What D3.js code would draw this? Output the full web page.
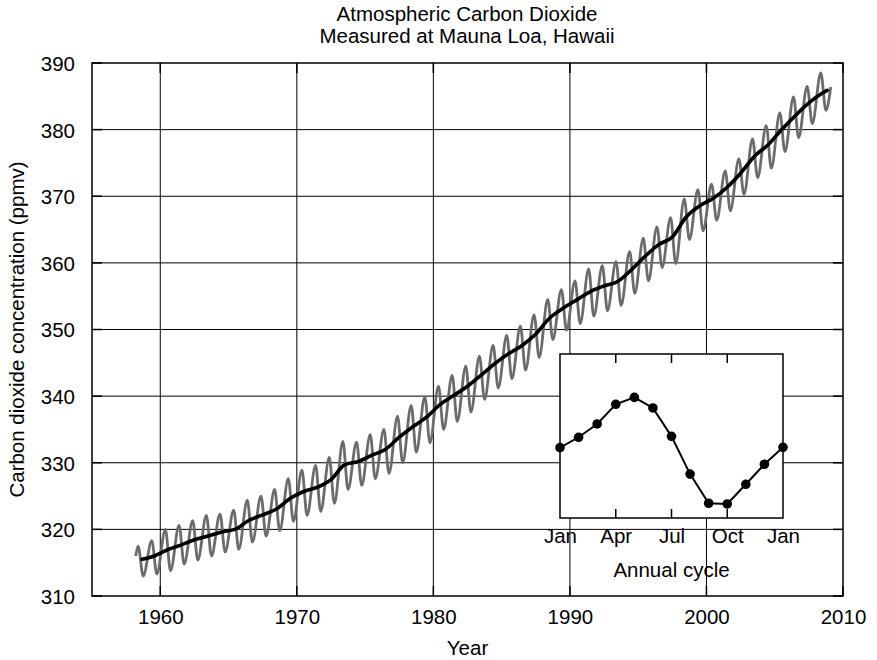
<!DOCTYPE html>
<html><head><meta charset="utf-8">
<script src="https://cdn.jsdelivr.net/npm/d3@7"></script>
<style>body{margin:0;background:#fff}svg{display:block}text{font-family:"Liberation Sans",Arial,sans-serif;fill:#000}</style>
</head><body>
<svg id="c" width="877" height="660"></svg>
<script>
// ---- data ----
const xTicks = [1960, 1970, 1980, 1990, 2000, 2010];
const yTicks = [310, 320, 330, 340, 350, 360, 370, 380, 390];
const cycleYears = [1958,1959,1960,1961,1962,1963,1964,1965,1966,1967,1968,1969,1970,1971,1972,1973,1974,1975,1976,1977,1978,1979,1980,1981,1982,1983,1984,1985,1986,1987,1988,1989,1990,1991,1992,1993,1994,1995,1996,1997,1998,1999,2000,2001,2002,2003,2004,2005,2006,2007,2008];
// seasonal maximum (May) and minimum (Sep/Oct) of the monthly record
const peakValues = [317.5,318.3,320.0,320.6,321.3,322.1,322.3,322.9,324.4,325.0,326.0,327.6,328.9,329.6,330.8,333.2,333.1,334.2,335.0,337.0,338.6,339.9,341.5,343.1,344.5,346.0,347.6,349.1,350.5,352.2,354.5,356.0,357.3,359.1,359.6,360.2,361.7,363.7,365.4,366.8,369.6,371.0,371.8,373.8,375.6,378.6,380.6,382.5,384.9,386.5,388.5];
const troughValues = [313.0,313.3,313.8,314.8,315.4,316.0,316.6,317.0,318.1,319.0,319.8,321.2,322.1,322.7,323.9,326.0,326.6,327.6,328.4,330.0,331.6,333.0,335.0,336.2,337.6,339.5,341.2,342.6,343.9,345.8,348.5,349.9,350.9,352.0,352.8,353.6,355.4,357.3,359.3,359.9,363.5,364.8,366.4,367.8,370.3,372.8,374.2,376.7,378.8,380.9,382.9];
const monthlyStart = [1958.2, 316.0];
const monthlyEnd = [2009.1, 386.4];
// smoothed trend (annual means, centred mid-year)
const trendYears = [1958.67,1959.5,1960.5,1961.5,1962.5,1963.5,1964.5,1965.5,1966.5,1967.5,1968.5,1969.5,1970.5,1971.5,1972.5,1973.5,1974.5,1975.5,1976.5,1977.5,1978.5,1979.5,1980.5,1981.5,1982.5,1983.5,1984.5,1985.5,1986.5,1987.5,1988.5,1989.5,1990.5,1991.5,1992.5,1993.5,1994.5,1995.5,1996.5,1997.5,1998.5,1999.5,2000.5,2001.5,2002.5,2003.5,2004.5,2005.5,2006.5,2007.5,2008.5,2008.85];
const trendValues = [315.5,315.97,316.91,317.64,318.45,318.99,319.62,320.04,321.37,322.18,323.05,324.62,325.68,326.32,327.46,329.68,330.19,331.13,332.03,333.84,335.41,336.84,338.76,340.12,341.48,343.15,344.87,346.35,347.61,349.31,351.69,353.20,354.45,355.70,356.54,357.21,358.96,360.97,362.74,363.88,366.84,368.54,369.71,371.32,373.45,375.98,377.70,379.98,382.09,384.02,385.5,385.9];
// inset: mean annual cycle (ppm anomaly)
const insetMonths = [0,1,2,3,4,5,6,7,8,9,10,11,12];
const insetValues = [-0.64,-0.07,0.66,1.74,2.12,1.54,-0.02,-2.09,-3.69,-3.73,-2.65,-1.55,-0.62];
const insetTickLabels = ["Jan","Apr","Jul","Oct","Jan"];
const insetTickMonths = [0,3,6,9,12];

// ---- layout ----
const FS = 20.5;
const FONT = '"Liberation Sans",Arial,sans-serif';
const svg = d3.select("#c");
const L = 92, R = 843, T = 63, B = 596;
const x = d3.scaleLinear().domain([1955, 2010]).range([L, R]);
const y = d3.scaleLinear().domain([310, 390]).range([B, T]);

// grid
const g = svg.append("g");
g.selectAll("line.v").data(xTicks.filter(d => d < 2010)).join("line")
  .attr("x1", d => x(d)).attr("x2", d => x(d)).attr("y1", T).attr("y2", B)
  .attr("stroke", "#000").attr("stroke-width", 1);
g.selectAll("line.h").data(yTicks.filter(d => d > 310 && d < 390)).join("line")
  .attr("x1", L).attr("x2", R).attr("y1", d => y(d)).attr("y2", d => y(d))
  .attr("stroke", "#000").attr("stroke-width", 1);

// axes (labels)
const xAxis = d3.axisBottom(x).tickValues(xTicks).tickSize(0).tickPadding(13).tickFormat(d3.format("d"));
const ax = svg.append("g").attr("transform", `translate(0,${B})`).call(xAxis);
const yAxis = d3.axisLeft(y).tickValues(yTicks).tickSize(0).tickPadding(17).tickFormat(d3.format("d"));
const ay = svg.append("g").attr("transform", `translate(${L},0)`).call(yAxis);
[ax, ay].forEach(a => { a.select(".domain").remove(); a.selectAll("text").attr("font-size", FS).attr("font-family", FONT); });
ay.selectAll("text").attr("dy", "0.36em");

// inner ticks
const tk = svg.append("g").attr("stroke", "#000").attr("stroke-width", 1.5);
xTicks.forEach(d => {
  tk.append("line").attr("x1", x(d)).attr("x2", x(d)).attr("y1", B).attr("y2", B - 10);
  tk.append("line").attr("x1", x(d)).attr("x2", x(d)).attr("y1", T).attr("y2", T + 10);
});
yTicks.forEach(d => {
  tk.append("line").attr("x1", L).attr("x2", L + 10).attr("y1", y(d)).attr("y2", y(d));
  tk.append("line").attr("x1", R).attr("x2", R - 10).attr("y1", y(d)).attr("y2", y(d));
});

// monthly series
const monthly = [monthlyStart];
cycleYears.forEach((yr, i) => {
  monthly.push([yr + 0.375, peakValues[i]]);
  monthly.push([yr + 0.75, troughValues[i]]);
});
monthly.push(monthlyEnd);
const line = d3.line().x(d => x(d[0])).y(d => y(d[1])).curve(d3.curveMonotoneX);
svg.append("path").datum(monthly).attr("d", line)
  .attr("fill", "none").attr("stroke", "#6b6b6b").attr("stroke-width", 2.8).attr("stroke-linejoin", "round");

const trend = trendYears.map((t, i) => [t, trendValues[i]]);
svg.append("path").datum(trend).attr("d", line)
  .attr("fill", "none").attr("stroke", "#000").attr("stroke-width", 3.6).attr("stroke-linecap", "round");

// inset
const iL = 560, iR = 783, iT = 354, iB = 518;
const ix = d3.scaleLinear().domain([0, 12]).range([iL, iR]);
const iy = d3.scaleLinear().domain([-4.5, 4.5]).range([iB, iT]);
const ins = svg.append("g");
ins.append("rect").attr("x", iL).attr("y", iT).attr("width", iR - iL).attr("height", iB - iT)
  .attr("fill", "#fff").attr("stroke", "#000").attr("stroke-width", 1.5);
[3, 6, 9].forEach(m => {
  ins.append("line").attr("x1", ix(m)).attr("x2", ix(m)).attr("y1", iT).attr("y2", iT + 9).attr("stroke", "#000").attr("stroke-width", 1.5);
  ins.append("line").attr("x1", ix(m)).attr("x2", ix(m)).attr("y1", iB).attr("y2", iB - 9).attr("stroke", "#000").attr("stroke-width", 1.5);
});
const iline = d3.line().x((d, i) => ix(insetMonths[i])).y(d => iy(d));
ins.append("path").datum(insetValues).attr("d", iline).attr("fill", "none").attr("stroke", "#000").attr("stroke-width", 2);
ins.selectAll("circle").data(insetValues).join("circle")
  .attr("cx", (d, i) => ix(insetMonths[i])).attr("cy", d => iy(d)).attr("r", 4.8).attr("fill", "#000");
const iax = d3.axisBottom(ix).tickValues(insetTickMonths).tickSize(0).tickPadding(10)
  .tickFormat((d, i) => insetTickLabels[i]);
const ia = ins.append("g").attr("transform", `translate(0,${iB})`).call(iax);
ia.select(".domain").remove();
ia.selectAll("text").attr("font-size", FS).attr("font-family", FONT);
ins.append("text").attr("x", (iL + iR) / 2).attr("y", 577).attr("text-anchor", "middle").attr("font-size", FS).text("Annual cycle");

// frame
svg.append("rect").attr("x", L).attr("y", T).attr("width", R - L).attr("height", B - T)
  .attr("fill", "none").attr("stroke", "#000").attr("stroke-width", 1.5);

// titles
svg.append("text").attr("x", 467).attr("y", 21).attr("text-anchor", "middle").attr("font-size", FS).text("Atmospheric Carbon Dioxide");
svg.append("text").attr("x", 467).attr("y", 43).attr("text-anchor", "middle").attr("font-size", FS).text("Measured at Mauna Loa, Hawaii");
svg.append("text").attr("x", (L + R) / 2).attr("y", 655).attr("text-anchor", "middle").attr("font-size", FS).text("Year");
svg.append("text").attr("transform", `translate(24,${(T + B) / 2}) rotate(-90)`).attr("text-anchor", "middle").attr("font-size", FS).text("Carbon dioxide concentration (ppmv)");
</script>
</body></html>
